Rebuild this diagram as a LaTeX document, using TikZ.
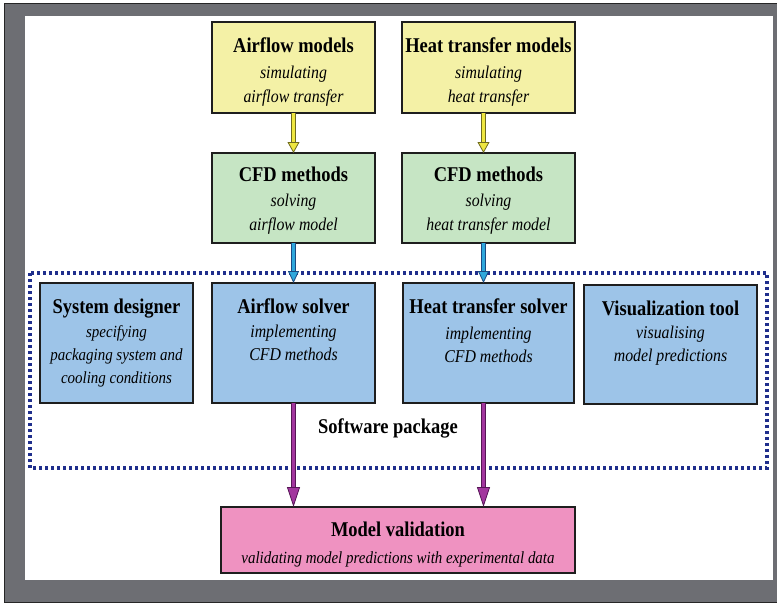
\documentclass[tikz,border=0pt]{standalone}
\usepackage{fontspec}
\setmainfont{Liberation Serif}[FakeStretch=0.88]
\usetikzlibrary{arrows.meta}
\definecolor{framegray}{HTML}{6D6E73}
\definecolor{boxline}{HTML}{1E1E1E}
\definecolor{yelbox}{HTML}{F4F1A6}
\definecolor{grnbox}{HTML}{C6E5C4}
\definecolor{blubox}{HTML}{9DC4E8}
\definecolor{pinkbox}{HTML}{EF92C1}
\definecolor{dotblue}{HTML}{1F2E8C}
\definecolor{yelarr}{HTML}{EEE640}
\definecolor{yelout}{HTML}{6E6A1E}
\definecolor{bluarr}{HTML}{2FA8DC}
\definecolor{bluout}{HTML}{1B4A82}
\definecolor{purarr}{HTML}{A2369E}
\definecolor{purout}{HTML}{561656}
\newcommand\fatarrow[7]{%
  \draw[line width=5.2pt, draw=#2, shorten >=#7] #3 -- #4;
  \draw[line width=3.2pt, draw=#1, -{Triangle[length=#5,width=#6,fill=#1,color=#2,line width'=0.8pt]}] #3 -- #4;
}
\begin{document}
\begin{tikzpicture}[x=1pt,y=-1pt,
  boxstyle/.style={draw=boxline, line width=1.3pt, inner sep=0pt, outer sep=0pt},
  ttl/.style={anchor=base, inner sep=0pt, font=\fontsize{21}{24}\selectfont\bfseries},
  sub/.style={anchor=base, inner sep=0pt, font=\fontsize{18}{22}\selectfont\itshape},
  subs/.style={anchor=base, inner sep=0pt, font=\fontsize{17}{22}\selectfont\itshape}]
\useasboundingbox (0,0) rectangle (777,603);
\fill[white] (0,0) rectangle (777,603);
% frame
\fill[framegray] (4,3) rectangle (777,602);
\draw[black!85, line width=1pt] (777,3) -- (4,3) -- (4,602) -- (777,602);
\fill[white] (25,16) rectangle (773,580);
% dotted software package region
\draw[dotblue, line width=3.2pt, dash pattern=on 3pt off 3pt] (30,273) rectangle (767,468);
% boxes
\node[boxstyle, fill=yelbox, minimum width=163pt, minimum height=91pt] (af) at (293.5,67.5) {};
\node[boxstyle, fill=yelbox, minimum width=173pt, minimum height=91pt] (ht) at (488.5,67.5) {};
\node[boxstyle, fill=grnbox, minimum width=163pt, minimum height=90pt] (cfa) at (293.5,198) {};
\node[boxstyle, fill=grnbox, minimum width=173pt, minimum height=90pt] (cfh) at (488.5,198) {};
\node[boxstyle, fill=blubox, minimum width=153pt, minimum height=120pt] (sd) at (116.5,343) {};
\node[boxstyle, fill=blubox, minimum width=163pt, minimum height=120pt] (as) at (293.5,343) {};
\node[boxstyle, fill=blubox, minimum width=171pt, minimum height=120pt] (hs) at (488.5,343) {};
\node[boxstyle, fill=blubox, minimum width=173pt, minimum height=119pt] (vt) at (670.5,344.5) {};
\node[boxstyle, fill=pinkbox, minimum width=354pt, minimum height=66pt] (mv) at (398,540) {};
% texts
\node[ttl] (af1) at (293.5,52) {Airflow models};
\node[sub] (af2) at (293.5,78) {simulating};
\node[sub] (af3) at (293.5,102) {airflow transfer};
\node[ttl] (ht1) at (488.5,52) {Heat transfer models};
\node[sub] (ht2) at (488.5,78) {simulating};
\node[sub] (ht3) at (488.5,102) {heat transfer};
\node[ttl] (cfa1) at (293.5,181) {CFD methods};
\node[sub] (cfa2) at (293.5,206) {solving};
\node[sub] (cfa3) at (293.5,230) {airflow model};
\node[ttl] (cfh1) at (488.5,181) {CFD methods};
\node[sub] (cfh2) at (488.5,206) {solving};
\node[sub] (cfh3) at (488.5,230) {heat transfer model};
\node[ttl] (sd1) at (116.5,313) {System designer};
\node[subs] (sd2) at (116.5,337) {specifying};
\node[subs] (sd3) at (116.5,360) {packaging system and};
\node[subs] (sd4) at (116.5,383) {cooling conditions};
\node[ttl] (as1) at (293.5,313) {Airflow solver};
\node[sub] (as2) at (293.5,337) {implementing};
\node[sub] (as3) at (293.5,360) {CFD methods};
\node[ttl] (hs1) at (488.5,313) {Heat transfer solver};
\node[sub] (hs2) at (488.5,339) {implementing};
\node[sub] (hs3) at (488.5,362) {CFD methods};
\node[ttl] (vt1) at (670.5,315) {Visualization tool};
\node[sub] (vt2) at (670.5,338) {visualising};
\node[sub] (vt3) at (670.5,361) {model predictions};
\node[ttl] (sp) at (388,433) {Software package};
\node[ttl] (mv1) at (398,536) {Model validation};
\node[subs] (mv2) at (398,563) {validating model predictions with experimental data};
% arrows
\fatarrow{yelarr}{yelout}{(af.south)}{(cfa.north)}{11pt}{12pt}{10pt}
\fatarrow{yelarr}{yelout}{([xshift=-5pt]ht.south)}{([xshift=-5pt]cfh.north)}{11pt}{12pt}{10pt}
\fatarrow{bluarr}{bluout}{(cfa.south)}{(as.north)}{12pt}{11pt}{11pt}
\fatarrow{bluarr}{bluout}{([xshift=-5pt]cfh.south)}{([xshift=-5pt]hs.north)}{12pt}{11pt}{11pt}
\fatarrow{purarr}{purout}{(as.south)}{(as.south |- mv.north)}{20pt}{13pt}{19pt}
\fatarrow{purarr}{purout}{([xshift=-5pt]hs.south)}{([xshift=-5pt]hs.south |- mv.north)}{20pt}{13pt}{19pt}
\end{tikzpicture}
\end{document}
